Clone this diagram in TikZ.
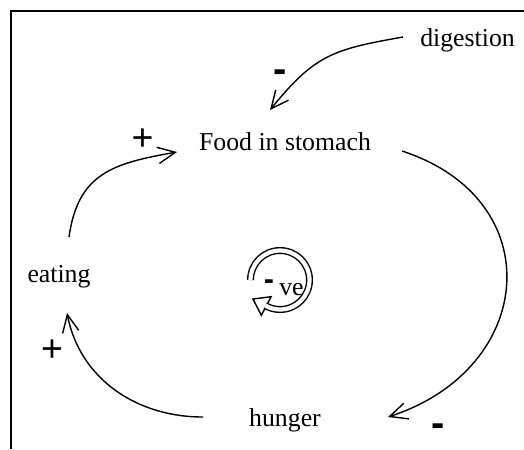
\documentclass[tikz,border=0pt]{standalone}
\usepackage{fontspec}
\setmainfont{Liberation Serif}
\newfontfamily\signfont{Liberation Sans}
\usepackage{tikz}
\usetikzlibrary{arrows.meta, calc}

\tikzset{
  varname/.style={font=\fontsize{11}{13}\selectfont, inner sep=3pt, anchor=base},
  plussign/.style={font=\signfont\fontsize{16}{16}\selectfont, inner sep=0pt, anchor=base},
  minussign/.style={font=\signfont\bfseries\fontsize{17}{17}\selectfont, inner sep=0pt, anchor=base},
  link/.style={-{Straight Barb[length=7.5pt,width=7pt]}, line width=0.6pt},
  ring/.style={double=white, double distance=1.8pt, line width=0.6pt},
  frame/.style={line width=1pt}
}

\begin{document}
\begin{tikzpicture}[x=0.15mm, y=0.15mm]
\useasboundingbox (0,0) rectangle (524,449);
\draw[frame] (11,0) -- (11,438) -- (524,438);

\node[varname] (dig) at (467.5,403) {digestion};
\node[varname] (food) at (285,299) {Food in stomach};
\node[varname] (eating) at (59,167) {eating};
\node[varname] (hunger) at (285,23) {hunger};

\draw[link] ($(dig.base)+(-64.5,9)$) to[out=190, in=51, looseness=1.2] ($(food.base)+(-15,40)$);
\draw[link] ($(eating.base)+(10,45)$) to[out=82, in=190, looseness=1.2] ($(food.base)+(-108,-2)$);
\draw[link] ($(food.base)+(117,-1)$) to[out=-18, in=18, looseness=1.5] ($(hunger.base)+(103,9)$);
\draw[link] ($(hunger.base)+(-82,9)$) to[out=180, in=-79] ($(eating.base)+(8,-31)$);

\node[minussign] (dig-sign) at (280.5,366.7) {-};
\node[plussign] (eat-sign) at (142.5,299) {+};
\node[plussign] (hun-sign) at (52,88) {+};
\node[minussign] (food-sign) at (438,12.7) {-};

% loop polarity
\coordinate (loop) at (280,169);
\draw[line width=0.6pt, fill=white, shift={(loop)}] (-8.9,-16.7) -- (-27,-19) -- (-18.7,-35.3) -- cycle;
\draw[ring] (loop) ++(180:29.5) arc[start angle=180, end angle=-120, radius=29.5];
\node[minussign, font=\signfont\bfseries\fontsize{13}{13}\selectfont] (loop-sign) at (269,160) {-};
\node[varname] (loop-ve) at (291.5,154) {ve};
\end{tikzpicture}
\end{document}
